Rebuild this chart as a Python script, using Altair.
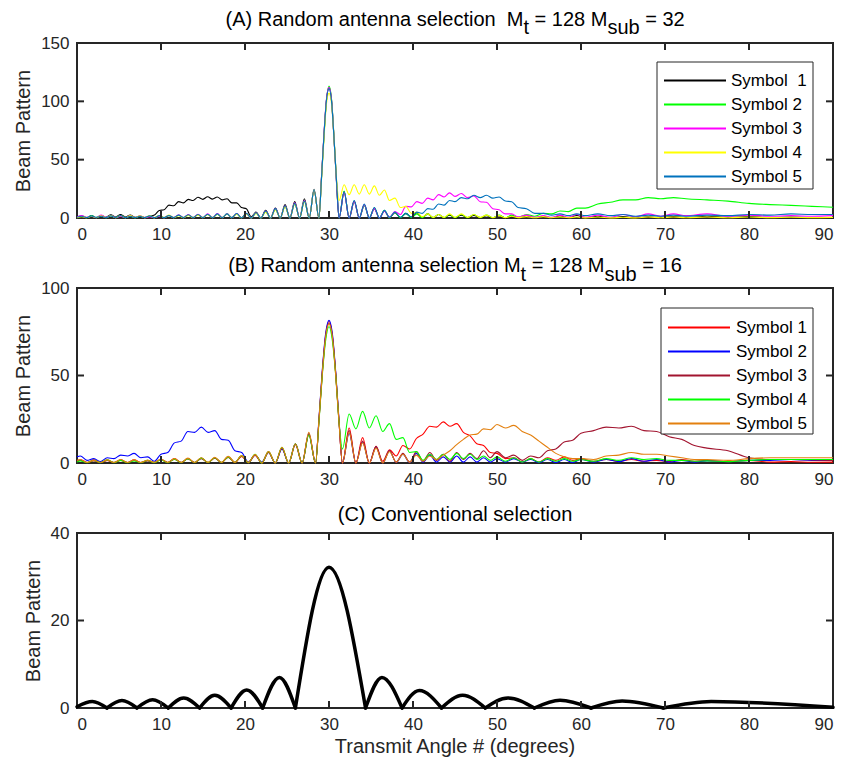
import altair as alt
import pandas as pd

FONT = "Liberation Sans"
INK = "#262626"
W, H = 756, 175

# ---------------- Panel A data ----------------
A_ANGLES = [0, 0.58, 1.15, 1.73, 2.3, 2.88, 3.46, 4.03, 4.61, 5.18, 5.76, 6.34, 6.91, 7.49, 8.06, 8.64,
            9.22, 9.79, 10.37, 10.94, 11.52, 12.1, 12.67, 13.25, 13.82, 14.4, 14.98, 15.55, 16.13, 16.7,
            17.28, 17.86, 18.43, 19.01, 19.58, 20.16, 20.74, 21.31, 21.89, 22.46, 23.04, 23.62, 24.19,
            24.77, 25.34, 25.92, 26.5, 27.07, 27.65, 28.22, 28.8,
            29.1, 29.4, 29.7, 30.0, 30.3, 30.6, 30.9,
            31.2, 31.8, 32.4, 33.0, 33.6, 34.2, 34.8, 35.4, 36.0, 36.6, 37.2, 37.85, 38.5, 39.15, 39.8,
            40.45, 41.1, 41.75, 42.4, 43.05, 43.7, 44.35, 45.0, 45.75, 46.5, 47.25, 48.0, 48.75, 49.5,
            50.25, 51.0, 51.75, 52.5, 53.5, 54.5, 55.5, 56.5, 57.5, 58.5, 59.5, 60.5, 62.0, 63.5, 65.0,
            66.5, 68.0, 69.5, 71.0, 72.5, 75.0, 77.5, 80.0, 82.5, 85.0, 87.5, 90.0]

A_SYMBOL1 = [1.2, 1.5, 0.3, 2.0, 0.4, 2.2, 0.6, 2.8, 0.8, 3.0, 0.9, 2.6, 0.5, 1.6, 0.4, 1.4, 2.5, 6.5,
             7.0, 11.0, 10.5, 14.0, 13.0, 16.0, 15.0, 17.8, 16.0, 18.2, 16.2, 18.0, 15.5, 16.5, 13.0,
             13.0, 9.0, 8.0, 1.0, 5.0, 0.0, 6.5, 0.0, 8.5, 0.0, 11.5, 0.0, 14.0, 0.0, 16.5, 0.0, 24.0, 0.0,
             34, 71, 101, 112, 101, 68, 30,
             0, 22.5, 0, 14.5, 0, 11, 0, 8, 0, 6,
             0.3, 4.5, 0.3, 4, 0.5, 4.5, 0.5, 3.5, 0.3, 3,
             0.3, 2.5, 0.3, 2.5, 0.3, 2.2, 0.3, 2, 0.2, 1.8,
             0.2, 1.6, 0.2, 1.5, 0.2, 1.4, 0.2, 1.8, 0.3, 2.2,
             0.3, 1.5, 0.2, 1.2, 0.2, 1.0, 0.3, 1.2, 0.3, 1.5,
             0.5, 1.2, 0.3, 0.8, 0.2, 0.4]
A_SYMBOL2 = [0.5, 1.8, 0.3, 2.0, 0.4, 2.2, 0.4, 2.0, 0.3, 1.8, 0.3, 1.6, 0.3, 1.5, 0.2, 1.6, 0.2, 1.8,
             0.3, 2.0, 0.3, 2.3, 0.3, 2.5, 0.3, 2.8, 0.3, 3.0, 0.3, 3.2, 0.3, 3.5, 0.3, 3.6, 0.2, 3.8,
             0.0, 4.2, 0.0, 5.5, 0.0, 7.5, 0.0, 10.0, 0.0, 12.0, 0.0, 14.5, 0.0, 24.0, 0.0,
             33, 70, 101, 113, 102, 69, 31,
             0, 23, 0, 14, 0, 11, 0, 8.5, 0, 6.5,
             0, 5, 0.2, 4, 0.3, 3.5, 0.3, 3.5, 0.3, 3,
             0.3, 3, 0.3, 3, 0.3, 3, 0.3, 2.5, 0.3, 2.5,
             0.3, 2.5, 0.5, 3, 1.5, 4, 3.5, 6, 5.5, 8.5,
             8.5, 12, 13.5, 15.5, 15.5, 17.5, 16.5, 17.5, 16.5, 15.5,
             14.5, 12.5, 11.5, 10.8, 10, 9.2]
A_SYMBOL3 = [0.8, 2.0, 0.5, 1.5, 0.3, 2.5, 0.5, 2.2, 0.3, 1.5, 0.3, 2.0, 0.4, 1.8, 0.3, 1.2, 0.3, 1.5,
             0.3, 2.2, 0.3, 2.8, 0.3, 3.0, 0.3, 3.2, 0.3, 3.5, 0.3, 3.8, 0.3, 3.5, 0.3, 3.8, 0.2, 4.0,
             0.0, 4.5, 0.0, 6.0, 0.0, 8.0, 0.0, 10.5, 0.0, 13.0, 0.0, 15.0, 0.0, 24.5, 0.0,
             34, 72, 102, 112, 101, 68, 30,
             0, 22, 0, 14, 0, 11.5, 0, 8, 0, 6,
             0.5, 5.5, 3, 10, 9.5, 14, 12.5, 17, 15.5, 20,
             18, 21.5, 18.5, 21, 17.5, 19, 14, 13.5, 8, 7,
             3.5, 3.5, 1, 2.5, 0.5, 2.2, 0.5, 2.5, 0.5, 3,
             0.5, 2.5, 0.5, 3, 1, 3.5, 1.5, 3.5, 2, 3.5,
             1.5, 2.5, 1.5, 2, 1.5, 2]
A_SYMBOL4 = [0.3, 1.2, 0.3, 1.5, 0.3, 1.8, 0.3, 2.0, 0.3, 2.2, 0.3, 2.0, 0.3, 1.8, 0.3, 2.0, 0.3, 2.2,
             0.3, 2.5, 0.3, 2.0, 0.3, 2.2, 0.3, 2.5, 0.3, 2.8, 0.3, 3.0, 0.3, 3.2, 0.3, 3.2, 0.2, 3.5,
             0.0, 4.0, 0.0, 5.0, 0.0, 7.0, 0.0, 9.5, 0.0, 12.0, 0.0, 14.0, 0.0, 24.5, 0.0,
             32, 68, 98, 107, 98, 68, 33,
             15, 28.5, 20, 28.5, 20.5, 28.5, 20.5, 27.5, 19.5, 24,
             15, 17, 9, 10, 4, 5, 1, 3.5, 0.5, 3,
             0.5, 3.5, 0.5, 3.5, 0.5, 3, 0.5, 2.5, 0.3, 2,
             0.3, 1.5, 0.3, 1.2, 0.2, 1.2, 0.2, 1, 0.2, 0.8,
             0.1, 0.8, 0.1, 0.6, 0.1, 0.8, 0.2, 0.8, 0.2, 0.8,
             0.2, 0.8, 0.3, 0.6, 0.3, 0.5]
A_SYMBOL5 = [0.6, 1.5, 0.4, 1.8, 0.5, 1.5, 0.3, 1.8, 0.4, 2.2, 0.3, 1.5, 0.3, 1.5, 0.3, 1.8, 0.3, 2.0,
             0.3, 2.2, 0.3, 2.5, 0.3, 2.8, 0.3, 3.0, 0.3, 3.2, 0.3, 3.5, 0.3, 3.5, 0.3, 3.8, 0.2, 4.0,
             0.0, 4.5, 0.0, 6.0, 0.0, 8.0, 0.0, 10.5, 0.0, 12.5, 0.0, 14.5, 0.0, 24.5, 0.0,
             33, 71, 101, 111, 100, 68, 31,
             0, 22.5, 0, 15, 0, 12, 0, 9, 0, 6.5,
             0.5, 5, 0.5, 4, 1, 5, 4, 8, 7.5, 12,
             11, 15, 14, 17.5, 16.5, 19.5, 17.5, 19.5, 17, 18,
             14.5, 14, 9, 8, 4, 4, 2.5, 3.5, 2, 3.5,
             2, 3.5, 2, 3, 1.5, 2.5, 1.5, 2.5, 1.5, 2.5,
             2, 3, 2.5, 3.5, 3, 3]
A_NAMES = ["Symbol\u00a0 1", "Symbol 2", "Symbol 3", "Symbol 4", "Symbol 5"]
A_COLORS = ["#000000", "#00FF00", "#FF00FF", "#FFFF00", "#0072BD"]

# ---------------- Panel B data ----------------
B_ANGLES = [0, 0.4, 1.2, 2.0, 2.8, 3.6, 4.4, 5.2, 6.0, 6.8, 7.6, 8.4, 9.2, 10.0, 10.8, 11.6, 12.4, 13.2,
            14.0, 14.8, 15.6, 16.4, 17.2, 18.0, 18.8, 19.6, 20.4, 21.2, 22.0, 22.8, 23.6, 24.4, 25.2,
            26.0, 26.8, 27.6, 28.4,
            28.8, 29.2, 29.6, 30.0, 30.4, 30.8, 31.2,
            31.6, 32.4, 33.2, 34.0, 34.8, 35.6, 36.4, 37.2, 38.0, 38.8, 39.6, 40.4, 41.2, 42.0, 42.8,
            43.6, 44.4, 45.2, 46.0, 46.8, 47.6, 48.4, 49.2, 50.0, 51, 52, 53, 54, 55, 56, 57, 58, 59, 60,
            61.5, 63, 64.5, 66, 67.5, 69, 70.5, 72, 73.5, 75, 77.5, 80, 82.5, 85, 87.5, 90]

B_SYMBOL1 = [1.0, 2.0, 0.3, 1.8, 0.3, 1.5, 0.3, 1.5, 0.3, 1.8, 0.3, 1.5, 0.3, 2.0, 0.3, 2.5, 0.3, 2.5,
             0.3, 2.8, 0.3, 3.0, 0.3, 3.5, 0.3, 3.8, 0.2, 4.5, 0.0, 6.5, 0.0, 8.5, 0.0, 10.5, 0.0, 16.5, 0.0,
             24, 52, 73, 81, 73, 51, 23,
             0, 20, 0, 14.5, 0, 9.5, 1, 7.5, 4, 10,
             8, 14, 16.5, 21, 20.5, 23.5, 21, 22.5, 17.5, 15.5,
             11, 10, 6, 5.5, 2.5, 3, 0.5, 2.5, 0.5, 3,
             1.5, 3.5, 1.5, 2.5, 1, 2, 1, 2, 1, 1.5,
             0.8, 2, 1, 1.5, 0.8, 1.5, 0.5, 0.8, 0.4, 0.5]
B_SYMBOL2 = [3.5, 4.0, 1.5, 2.5, 0.8, 3.0, 2.5, 4.5, 4.0, 5.5, 3.0, 3.5, 1.0, 5.0, 6.0, 11.5, 12.5, 18.0,
             17.5, 20.5, 17.5, 18.5, 13.5, 13.0, 7.0, 6.0, 0.5, 4.5, 0.5, 6.0, 0.0, 8.0, 0.0, 11.0, 0.0,
             17.0, 0.0,
             25, 53, 74, 81.5, 74, 52, 24,
             0, 17, 0, 12, 0, 9, 0, 7, 0.3, 5,
             0.3, 5.5, 0.5, 4.5, 0.5, 3.5, 0.5, 4, 0.5, 3.5,
             0.5, 3, 0.5, 2.5, 0.5, 2.5, 0.5, 2, 0.3, 2,
             0.3, 2, 0.3, 2, 0.5, 2, 0.8, 2.5, 1, 2,
             0.5, 1.5, 0.5, 1.2, 0.8, 1.5, 1.5, 2, 1.5, 1.5]
B_SYMBOL3 = [0.8, 1.5, 0.3, 1.2, 0.3, 1.5, 0.3, 1.8, 0.3, 1.5, 0.3, 1.2, 0.3, 2.0, 0.3, 2.2, 0.3, 2.5,
             0.3, 2.5, 0.3, 2.8, 0.3, 3.2, 0.3, 4.0, 0.2, 4.5, 0.0, 6.0, 0.0, 8.5, 0.0, 11.0, 0.0, 16.5, 0.0,
             24, 51, 72, 80, 72, 51, 23,
             0, 18.5, 0, 12.5, 0, 9.5, 0, 7, 0.5, 5.5,
             0.5, 6.5, 1, 6, 1.5, 5, 1, 6, 2, 5.5,
             2.5, 7, 3, 6.5, 3, 4.5, 1.5, 4, 3, 7,
             8, 12, 13, 17, 18.5, 20.5, 20, 21, 18.5, 18,
             15, 13.5, 10, 8.5, 7, 3, 2, 2, 1.8, 1.5]
B_SYMBOL4 = [0.5, 1.2, 0.2, 1.5, 0.2, 1.8, 0.2, 1.5, 0.2, 1.2, 0.2, 1.5, 0.2, 1.8, 0.2, 2.2, 0.2, 2.5,
             0.2, 2.8, 0.3, 3.0, 0.3, 3.5, 0.3, 4.2, 0.2, 5.0, 0.0, 6.5, 0.0, 9.0, 0.0, 11.0, 0.0, 16.0, 0.0,
             23, 50, 70, 78, 70, 50, 23,
             8, 28, 19.5, 29.5, 20, 27, 18, 22.5, 13.5, 14.5,
             6, 6.5, 1.5, 5, 2, 5, 2, 5.5, 2.5, 5,
             2, 4, 1.5, 3.5, 1, 3, 0.5, 2.5, 0.5, 2.5,
             1, 2.5, 1, 2, 1, 2.5, 1.5, 3, 2, 2.5,
             1.5, 1.5, 1, 1.2, 0.8, 1.5, 2, 2, 2, 2]
B_SYMBOL5 = [1.5, 2.0, 0.3, 1.5, 0.3, 1.8, 0.3, 2.0, 0.3, 1.8, 0.3, 1.6, 0.3, 2.2, 0.3, 2.5, 0.3, 2.8,
             0.3, 3.0, 0.3, 3.2, 0.3, 3.8, 0.3, 4.2, 0.3, 4.8, 0.0, 6.5, 0.0, 9.0, 0.0, 11.0, 0.0, 17.5, 0.0,
             24, 51, 72, 79.5, 72, 50, 23,
             0, 17.5, 0, 11.5, 0, 8.5, 0, 6.5, 0.5, 5,
             0.5, 4.5, 1, 4, 2, 4.5, 7, 10.5, 13.5, 16,
             16.5, 19.5, 19, 22, 20, 21.5, 18, 16, 12.5, 9,
             5.5, 3.5, 2.5, 2.5, 2, 4, 4.5, 6, 5, 5,
             4, 3, 2, 2, 1.5, 2.5, 3, 3, 3, 3]
B_NAMES = ["Symbol 1", "Symbol 2", "Symbol 3", "Symbol 4", "Symbol 5"]
B_COLORS = ["#FF0000", "#0000FF", "#A2142F", "#00FF00", "#E3800F"]

# ---------------- Panel C data (alternating nulls / lobe peaks) ----------------
C_ANGLES = [0, 1.83, 3.56, 5.35, 7.14, 9.0, 10.86, 12.7, 14.6, 16.4, 18.35, 20.2, 22.1, 24.1, 26.0,
            30.0, 34.35, 36.3, 38.7, 40.75, 43.4, 45.9, 48.6, 51.3, 54.45, 57.5, 61.2, 64.9, 69.8,
            75.5, 90.0]
C_VALUES = [0.3, 1.5, 0, 1.7, 0, 1.9, 0, 2.3, 0, 2.9, 0, 4.1, 0, 7.0, 0, 32.2, 0, 7.0, 0, 4.0, 0,
            2.9, 0, 2.3, 0, 1.8, 0, 1.6, 0, 1.5, 0.15]

X_TICKS = [0, 10, 20, 30, 40, 50, 60, 70, 80, 90]
A_YTICKS = [0, 50, 100, 150]
B_YTICKS = [0, 50, 100]
C_YTICKS = [0, 20, 40]

ONE = pd.DataFrame({"k": [0]})


def series_frame(angles, names, values):
    rows = []
    for name, ys in zip(names, values):
        assert len(ys) == len(angles), (name, len(ys), len(angles))
        for a, v in zip(angles, ys):
            rows.append({"angle": a, "value": v, "series": name})
    return pd.DataFrame(rows)


def x_enc():
    axis = alt.Axis(values=X_TICKS, ticks=False, tickSize=0, domain=False, grid=False,
                    labelFont=FONT, labelFontSize=17, labelColor=INK, labelPadding=8)
    return alt.X("angle:Q", scale=alt.Scale(domain=[0, 90], nice=False, zero=False),
                 axis=axis, title=None)


def y_enc(ticks):
    axis = alt.Axis(values=ticks, ticks=False, tickSize=0, domain=False, grid=False,
                    labelFont=FONT, labelFontSize=17, labelColor=INK, labelPadding=8,
                    titleFont=FONT, titleFontSize=20, titleFontWeight="normal", titleColor=INK,
                    titlePadding=7)
    return alt.Y("value:Q", scale=alt.Scale(domain=[ticks[0], ticks[-1]], nice=False),
                 axis=axis, title="Beam Pattern")


def tick_layers(yticks):
    xt = pd.DataFrame({"angle": X_TICKS[1:-1]})
    yt = pd.DataFrame({"value": yticks[1:-1]})
    style = dict(color=INK, strokeWidth=2)
    return [
        alt.Chart(xt).mark_rule(**style).encode(x=x_enc(), y=alt.value(H), y2=alt.value(H - 7)),
        alt.Chart(xt).mark_rule(**style).encode(x=x_enc(), y=alt.value(0), y2=alt.value(7)),
        alt.Chart(yt).mark_rule(**style).encode(y=y_enc(yticks), x=alt.value(0), x2=alt.value(7)),
        alt.Chart(yt).mark_rule(**style).encode(y=y_enc(yticks), x=alt.value(W), x2=alt.value(W - 7)),
    ]


def text_layer(txt, px, py, size=20, color="#000000", align="left", baseline="alphabetic"):
    return alt.Chart(ONE).mark_text(text=txt, align=align, baseline=baseline, fontSize=size,
                                    font=FONT, color=color).encode(x=alt.value(px), y=alt.value(py))


def legend_layers(names, colors, box, row0, line_x0, line_x1, text_x):
    bx0, by0, bx1, by1 = box
    layers = [alt.Chart(ONE).mark_rect(fill="white", stroke=INK, strokeWidth=1).encode(
        x=alt.value(bx0), x2=alt.value(bx1), y=alt.value(by0), y2=alt.value(by1))]
    for k, (n, c) in enumerate(zip(names, colors)):
        yk = row0 + 24 * k
        layers.append(alt.Chart(ONE).mark_rule(color=c, strokeWidth=1.8).encode(
            x=alt.value(line_x0), x2=alt.value(line_x1), y=alt.value(yk)))
        layers.append(text_layer(n, text_x, yk, size=17, color="#000000", baseline="middle"))
    return layers


def title_layers(pieces, base_y, sub_dy):
    out = []
    for txt, px, is_sub in pieces:
        out.append(text_layer(txt, px, base_y + (sub_dy if is_sub else 0)))
    return out


# ---------------- Panel A ----------------
dfA = series_frame(A_ANGLES, A_NAMES, [A_SYMBOL1, A_SYMBOL2, A_SYMBOL3, A_SYMBOL4, A_SYMBOL5])
linesA = alt.Chart(dfA).mark_line(strokeWidth=1.1, interpolate="monotone").encode(
    x=x_enc(), y=y_enc(A_YTICKS),
    color=alt.Color("series:N", scale=alt.Scale(domain=A_NAMES, range=A_COLORS), legend=None))
titleA = title_layers([("(A) Random antenna selection\u00a0 M", 148.5, False), ("t", 446.4, True),
                       ("= 128 M", 457.6, False), ("sub", 530.4, True), ("= 32", 568.2, False)],
                      -17, 8)
panelA = alt.layer(linesA, *tick_layers(A_YTICKS),
                   *legend_layers(A_NAMES, A_COLORS, (580, 19, 736, 146), 37.5, 587, 649, 654),
                   *titleA).properties(width=W, height=H)

# ---------------- Panel B ----------------
dfB = series_frame(B_ANGLES, B_NAMES, [B_SYMBOL1, B_SYMBOL2, B_SYMBOL3, B_SYMBOL4, B_SYMBOL5])
linesB = alt.Chart(dfB).mark_line(strokeWidth=1.1, interpolate="monotone").encode(
    x=x_enc(), y=y_enc(B_YTICKS),
    color=alt.Color("series:N", scale=alt.Scale(domain=B_NAMES, range=B_COLORS), legend=None))
titleB = title_layers([("(B) Random antenna selection M", 151.2, False), ("t", 443.5, True),
                       ("= 128 M", 454.7, False), ("sub", 527.5, True), ("= 16", 565.3, False)],
                      -16, 9)
panelB = alt.layer(linesB, *tick_layers(B_YTICKS),
                   *legend_layers(B_NAMES, B_COLORS, (584, 20, 736, 146), 39.5, 591, 653, 659),
                   *titleB).properties(width=W, height=H)

# ---------------- Panel C ----------------
rowsC = []
for s in range((len(C_ANGLES) - 1) // 2):
    for j in range(3):
        rowsC.append({"angle": C_ANGLES[2 * s + j], "value": C_VALUES[2 * s + j], "lobe": s})
dfC = pd.DataFrame(rowsC)
linesC = alt.Chart(dfC).mark_line(strokeWidth=3.5, color="#000000", interpolate="monotone",
                                  strokeCap="round", strokeJoin="round").encode(
    x=x_enc(), y=y_enc(C_YTICKS), detail="lobe:N")
panelC = alt.layer(linesC, *tick_layers(C_YTICKS),
                   text_layer("(C) Conventional selection", W / 2, -12, align="center"),
                   text_layer("Transmit Angle # (degrees)", W / 2, H + 45, color=INK, align="center"),
                   ).properties(width=W, height=H)

chart = alt.vconcat(panelA, panelB, panelC, spacing=70, bounds="flush").resolve_scale(
    x="independent", y="independent", color="independent"
).properties(
    padding={"left": 12, "top": 9, "right": 5, "bottom": 5},
    background="white",
).configure_view(stroke=INK, strokeWidth=2)

chart.save("out.html", embed_options={"renderer": "svg", "actions": False})
